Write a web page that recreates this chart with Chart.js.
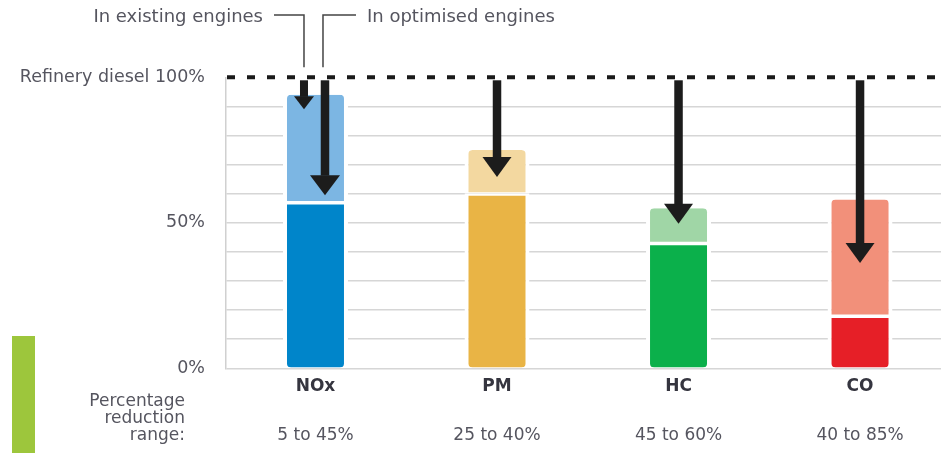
<!DOCTYPE html>
<html><head><meta charset="utf-8">
<script src="https://cdn.jsdelivr.net/npm/chart.js@4"></script>
<style>html,body{margin:0;padding:0;background:#fff;}canvas{display:block;}</style>
</head><body>
<canvas id="c" width="941" height="453"></canvas>
<script>
// ---- data ----
const categories = ['NOx', 'PM', 'HC', 'CO'];
const reductionRanges = ['5 to 45%', '25 to 40%', '45 to 60%', '40 to 85%'];
const existingLevel = [94, 75, 55, 58];   // % of refinery diesel, existing engines
const optimisedLevel = [57, 60, 43, 18];  // % of refinery diesel, optimised engines
const arrowExistingTip = [89, null, null, null];
const arrowOptimisedTip = [59.5, 65.7, 49.7, 36.2];
const yTickValues = [0, 50, 100];
const yTickLabels = ['0%', '50%', 'Refinery diesel 100%'];
const annotationLabels = ['In existing engines', 'In optimised engines'];
const rowLabel = ['Percentage', 'reduction', 'range:'];

// ---- styles ----
const darkColors = ['#0085ca', '#e9b445', '#0bb04b', '#e61f27'];
const lightColors = ['#7cb6e3', '#f3d8a0', '#a0d6a6', '#f2907a'];
const FONT = 'DejaVu Sans';
const xMin = -0.493, xMax = 3.446;

function drawArrow(ctx, cx, yStart, yTip, hw, hh, sw) {
  ctx.fillStyle = '#1c1c1c';
  ctx.fillRect(cx - sw / 2, yStart, sw, (yTip - hh) - yStart + 0.5);
  ctx.beginPath();
  ctx.moveTo(cx - hw / 2, yTip - hh);
  ctx.lineTo(cx + hw / 2, yTip - hh);
  ctx.lineTo(cx, yTip);
  ctx.closePath();
  ctx.fill();
}

const decor = {
  id: 'decor',
  beforeDraw(chart) {
    const ctx = chart.ctx;
    ctx.save();
    ctx.fillStyle = '#9dc63c';
    ctx.fillRect(12, 336, 23, 117);
    ctx.restore();
  },
  afterDatasetsDraw(chart) {
    const {ctx, chartArea, scales: {x, y}} = chart;
    const y100 = y.getPixelForValue(100);
    ctx.save();
    ctx.setLineDash([8, 12]);
    ctx.lineWidth = 4;
    ctx.strokeStyle = '#1a1a1a';
    ctx.beginPath();
    ctx.moveTo(chartArea.left + 1, y100);
    ctx.lineTo(chart.width, y100);
    ctx.stroke();
    ctx.setLineDash([]);
    categories.forEach((c, i) => {
      const cx = x.getPixelForValue(i);
      if (arrowExistingTip[i] != null) {
        drawArrow(ctx, cx - 11.5, y100 + 3, y.getPixelForValue(arrowExistingTip[i]), 20, 13, 8);
        drawArrow(ctx, cx + 9.5, y100 + 3, y.getPixelForValue(arrowOptimisedTip[i]), 30, 20, 8.5);
      } else {
        drawArrow(ctx, cx, y100 + 3, y.getPixelForValue(arrowOptimisedTip[i]), 29, 20, 8.5);
      }
    });
    ctx.restore();
  },
  afterDraw(chart) {
    const {ctx, scales: {x, y}} = chart;
    const y100 = y.getPixelForValue(100);
    const c0 = x.getPixelForValue(0);
    const exX = c0 - 11.5, opX = c0 + 7.5;
    ctx.save();
    ctx.strokeStyle = '#444';
    ctx.lineWidth = 1.5;
    ctx.beginPath();
    ctx.moveTo(exX - 30, 15); ctx.lineTo(exX, 15); ctx.lineTo(exX, y100 - 10);
    ctx.moveTo(opX, y100 - 10); ctx.lineTo(opX, 15); ctx.lineTo(opX + 33, 15);
    ctx.stroke();
    ctx.fillStyle = '#55555f';
    ctx.font = '18px "' + FONT + '"';
    ctx.textBaseline = 'middle';
    ctx.textAlign = 'right';
    ctx.fillText(annotationLabels[0], exX - 41, 17);
    ctx.textAlign = 'left';
    ctx.fillText(annotationLabels[1], opX + 44, 17);
    ctx.font = '17px "' + FONT + '"';
    ctx.textAlign = 'right';
    const rowY = [401.7, 418.5, 436];
    rowLabel.forEach((t, k) => ctx.fillText(t, 185, rowY[k]));
    ctx.restore();
  }
};

const barCommon = {
  borderColor: '#ffffff',
  borderSkipped: false,
  grouped: false,
  categoryPercentage: 1,
  barPercentage: 0.358,
  inflateAmount: 0
};

new Chart(document.getElementById('c'), {
  type: 'bar',
  data: {
    datasets: [
      Object.assign({
        label: annotationLabels[1],
        data: categories.map((c, i) => ({x: i, y: [0, optimisedLevel[i]]})),
        backgroundColor: darkColors,
        borderWidth: {top: 2, bottom: 0, left: 4, right: 4},
        borderRadius: {topLeft: 0, topRight: 0, bottomLeft: 8, bottomRight: 8}
      }, barCommon),
      Object.assign({
        label: annotationLabels[0],
        data: categories.map((c, i) => ({x: i, y: [optimisedLevel[i], existingLevel[i]]})),
        backgroundColor: lightColors,
        borderWidth: {top: 0, bottom: 1.5, left: 4, right: 4},
        borderRadius: {topLeft: 8, topRight: 8, bottomLeft: 0, bottomRight: 0}
      }, barCommon)
    ]
  },
  options: {
    responsive: false,
    animation: false,
    layout: {padding: {top: 77.3, left: 0, right: 0, bottom: 0}},
    plugins: {legend: {display: false}, tooltip: {enabled: false}},
    scales: {
      x: {
        type: 'linear', position: 'bottom', min: xMin, max: xMax, offset: false,
        grid: {display: false, drawTicks: false, offset: false},
        border: {display: false},
        afterBuildTicks: s => { s.ticks = categories.map((c, i) => ({value: i})); },
        afterFit: s => { s.height = 36; },
        ticks: {autoSkip: false, maxRotation: 0, padding: 8, color: '#35353f',
          font: {family: FONT, size: 17, weight: 'bold'},
          callback: v => categories[v]}
      },
      x2: {
        type: 'linear', position: 'bottom', min: xMin, max: xMax, offset: false,
        grid: {display: false, drawTicks: false, offset: false},
        border: {display: false},
        afterBuildTicks: s => { s.ticks = categories.map((c, i) => ({value: i})); },
        afterFit: s => { s.height = 48.7; },
        ticks: {autoSkip: false, maxRotation: 0, padding: 21.5, color: '#55555f',
          font: {family: FONT, size: 17},
          callback: v => reductionRanges[v]}
      },
      y: {
        min: 0, max: 100,
        afterFit: s => { s.width = 226; },
        ticks: {stepSize: 10, padding: 21, color: '#55555f', font: {family: FONT, size: 17.5},
          callback: v => { const k = yTickValues.indexOf(v); return k >= 0 ? yTickLabels[k] : ''; }},
        grid: {drawTicks: false, lineWidth: 1.5,
          color: c => (c.tick && c.tick.value === 100) ? 'rgba(0,0,0,0)' : '#d6d6d6'},
        border: {display: true, color: '#d0d0d0', width: 1.5}
      }
    }
  },
  plugins: [decor]
});
</script>
</body></html>
